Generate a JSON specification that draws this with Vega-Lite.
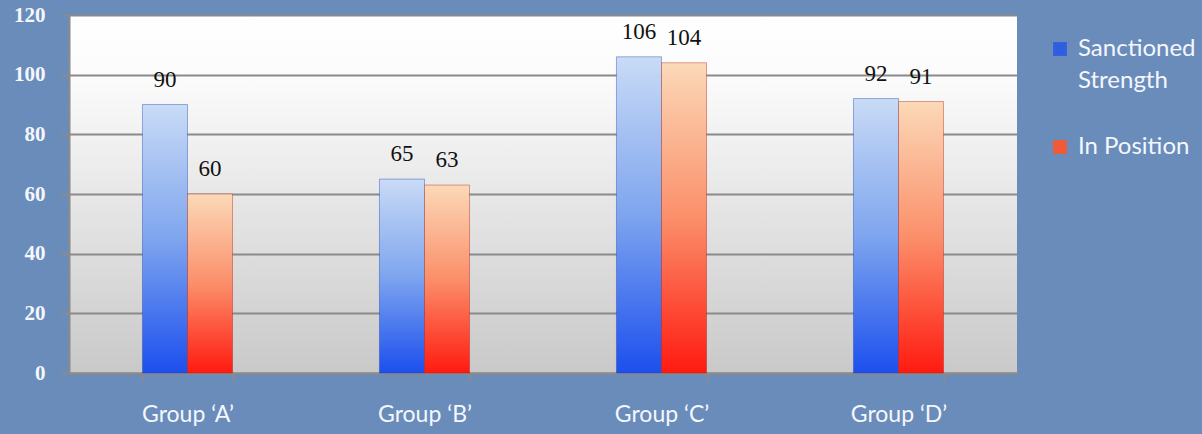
{
  "$schema": "https://vega.github.io/schema/vega-lite/v6.json",
  "width": 948,
  "height": 358,
  "autosize": {"type": "none"},
  "padding": {"left": 69, "top": 15, "right": 185, "bottom": 61},
  "background": "#6a8cbb",
  "config": {
    "view": {
      "stroke": null,
      "fill": {"gradient": "linear", "x1": 0, "y1": 0, "x2": 0, "y2": 1,
        "stops": [{"offset": 0, "color": "#ffffff"}, {"offset": 0.18, "color": "#fbfbfb"}, {"offset": 1, "color": "#c9c9c9"}]}
    }
  },
  "data": {
    "values": [
      {"group": "Group ‘A’", "series": "Sanctioned Strength", "value": 90},
      {"group": "Group ‘A’", "series": "In Position", "value": 60},
      {"group": "Group ‘B’", "series": "Sanctioned Strength", "value": 65},
      {"group": "Group ‘B’", "series": "In Position", "value": 63},
      {"group": "Group ‘C’", "series": "Sanctioned Strength", "value": 106},
      {"group": "Group ‘C’", "series": "In Position", "value": 104},
      {"group": "Group ‘D’", "series": "Sanctioned Strength", "value": 92},
      {"group": "Group ‘D’", "series": "In Position", "value": 91}
    ]
  },
  "encoding": {
    "x": {
      "field": "group", "type": "nominal", "sort": null,
      "scale": {"paddingInner": 0.62, "paddingOuter": 0.31},
      "axis": {
        "title": null, "labelAngle": 0, "labelFont": "Lato", "labelFontSize": 23,
        "labelColor": "#f4f7fb", "labelPadding": 22, "tickBand": "extent",
        "tickSize": 8, "tickColor": "#8a8a8a", "tickWidth": 2,
        "domainColor": "#8a8a8a", "domainWidth": 2
      }
    },
    "xOffset": {"field": "series", "type": "nominal",
      "scale": {"domain": ["Sanctioned Strength", "In Position"], "paddingInner": 0, "paddingOuter": 0}},
    "y": {
      "field": "value", "type": "quantitative",
      "scale": {"domain": [0, 120], "nice": false},
      "axis": {
        "title": null, "values": [0, 20, 40, 60, 80, 100, 120],
        "labelFont": "Liberation Serif", "labelFontWeight": "bold", "labelFontSize": 21,
        "labelColor": "#f4f7fb", "labelPadding": 16,
        "tickSize": 8, "tickColor": "#8a8a8a", "tickWidth": 2,
        "domainColor": "#8a8a8a", "domainWidth": 2,
        "gridColor": "#8a8a8a", "gridWidth": 2
      }
    }
  },
  "layer": [
    {
      "transform": [{"filter": "datum.series == 'Sanctioned Strength'"}],
      "mark": {"type": "bar", "stroke": "#1a3fb0", "strokeWidth": 0.8, "strokeOpacity": 0.5,
        "fill": {"gradient": "linear", "x1": 0, "y1": 0, "x2": 0, "y2": 1,
          "stops": [{"offset": 0, "color": "#c9dbf6"}, {"offset": 0.5, "color": "#7ea5ee"}, {"offset": 1, "color": "#1c4fee"}]}}
    },
    {
      "transform": [{"filter": "datum.series == 'In Position'"}],
      "mark": {"type": "bar", "stroke": "#b01a10", "strokeWidth": 0.8, "strokeOpacity": 0.5,
        "fill": {"gradient": "linear", "x1": 0, "y1": 0, "x2": 0, "y2": 1,
          "stops": [{"offset": 0, "color": "#fbd9b8"}, {"offset": 0.5, "color": "#fb8f6a"}, {"offset": 1, "color": "#ff1a10"}]}}
    },
    {
      "mark": {"type": "text", "baseline": "alphabetic", "dy": -18, "font": "Liberation Serif", "fontSize": 23, "color": "#111111"},
      "encoding": {"text": {"field": "value", "type": "quantitative"}}
    },
    {
      "mark": {"type": "square", "opacity": 0, "size": 1},
      "encoding": {
        "fill": {
          "field": "series", "type": "nominal",
          "scale": {"domain": ["Sanctioned Strength", "In Position"], "range": ["#2f5fe0", "#f05a38"]},
          "legend": {
            "title": null, "orient": "none", "legendX": 979, "legendY": 22,
            "symbolType": "square", "symbolSize": 190, "symbolStrokeWidth": 0, "symbolOpacity": 1,
            "labelFont": "Lato", "labelFontSize": 24, "labelColor": "#f4f7fb",
            "labelLimit": 200, "rowPadding": 42, "labelOffset": 6,
            "labelExpr": "datum.label == 'Sanctioned Strength' ? ['Sanctioned', 'Strength'] : datum.label",
            "encode": {"labels": {"update": {"lineHeight": {"value": 32}}}}
          }
        }
      }
    }
  ]
}
